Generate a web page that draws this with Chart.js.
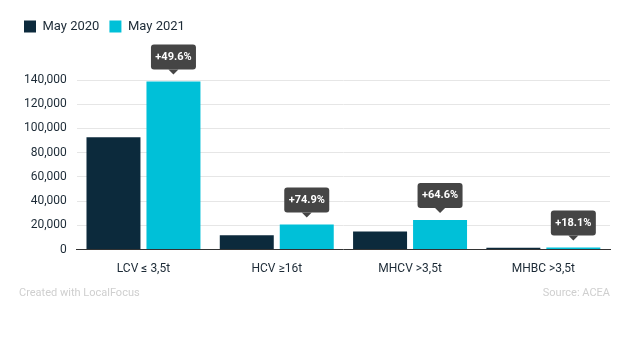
<!DOCTYPE html>
<html lang="en">
<head>
  <meta charset="UTF-8">
  <title>LCV / HCV registrations May 2020 vs May 2021</title>
  <script src="https://cdn.jsdelivr.net/npm/chart.js"></script>
  <style>
    body { margin: 0; background: #fff; font-family: 'Roboto', sans-serif; }
    .wrap { position: relative; width: 620px; height: 350px; }
    .foot { position: absolute; top: 286px; font-size: 11px; color: #cfcfcf; }
    #credit { left: 19px; }
    #source { right: 10px; }
  </style>
</head>
<body>

<div class="wrap">
  <canvas id="chart"></canvas>
  <div class="foot" id="credit">Created with LocalFocus</div>
  <div class="foot" id="source">Source: ACEA</div>
</div>

<script>
  const categories = ['LCV ≤ 3,5t', 'HCV ≥16t', 'MHCV >3,5t', 'MHBC >3,5t'];
  const may2020 = [92800, 11900, 14900, 1500];
  const may2021 = [138800, 20800, 24500, 1800];
  const changeLabels = ['+49.6%', '+74.9%', '+64.6%', '+18.1%'];

  // grey callouts above the May 2021 bars
  const callouts = {
    id: 'callouts',
    afterDatasetsDraw(chart) {
      const ctx = chart.ctx;
      const bars = chart.getDatasetMeta(1).data;
      ctx.save();
      ctx.font = 'bold 11px Roboto';
      ctx.textAlign = 'center';
      ctx.textBaseline = 'middle';
      bars.forEach((bar, i) => {
        const w = 45, h = 25;
        const tip = bar.y - 7;
        const bottom = tip - 5;
        const left = bar.x - w / 2;
        ctx.fillStyle = '#454545';
        ctx.beginPath();
        ctx.roundRect(left, bottom - h, w, h, 3);
        ctx.fill();
        ctx.beginPath();
        ctx.moveTo(bar.x - 5, bottom);
        ctx.lineTo(bar.x + 5, bottom);
        ctx.lineTo(bar.x, tip);
        ctx.closePath();
        ctx.fill();
        ctx.fillStyle = '#fff';
        ctx.fillText(changeLabels[i], bar.x, bottom - h / 2);
      });
      ctx.restore();
    }
  };

  // extra room under the legend for the top callout
  const legendSpace = {
    id: 'legendSpace',
    beforeInit(chart) {
      const fit = chart.legend.fit;
      chart.legend.fit = function () {
        fit.bind(chart.legend)();
        this.height += 37;
      };
    }
  };

  new Chart(document.getElementById('chart'), {
    type: 'bar',
    data: {
      labels: categories,
      datasets: [
        { label: 'May 2020', data: may2020, backgroundColor: '#0c2a3c' },
        { label: 'May 2021', data: may2021, backgroundColor: '#00c0d8' }
      ]
    },
    options: {
      responsive: true,
      maintainAspectRatio: false,
      animation: false,
      categoryPercentage: 0.9,
      barPercentage: 0.9,
      layout: { padding: { left: 14, right: 10, top: 10, bottom: 70 } },
      plugins: {
        tooltip: { enabled: false },
        legend: {
          align: 'start',
          labels: {
            boxWidth: 12, boxHeight: 12, padding: 10,
            color: '#1c2a36',
            font: { family: 'Roboto', size: 13 }
          }
        }
      },
      scales: {
        x: {
          grid: { display: false },
          border: { color: '#333' },
          ticks: { color: '#1c2a36', font: { family: 'Roboto', size: 12 }, padding: 4 }
        },
        y: {
          min: 0, max: 140000,
          ticks: {
            stepSize: 20000, padding: 10,
            color: '#1c2a36', font: { family: 'Roboto', size: 12 },
            callback: v => v.toLocaleString('en-US')
          },
          grid: { color: '#e6e6e6', drawTicks: false },
          border: { display: false }
        }
      }
    },
    plugins: [callouts, legendSpace]
  });
</script>

</body>
</html>
